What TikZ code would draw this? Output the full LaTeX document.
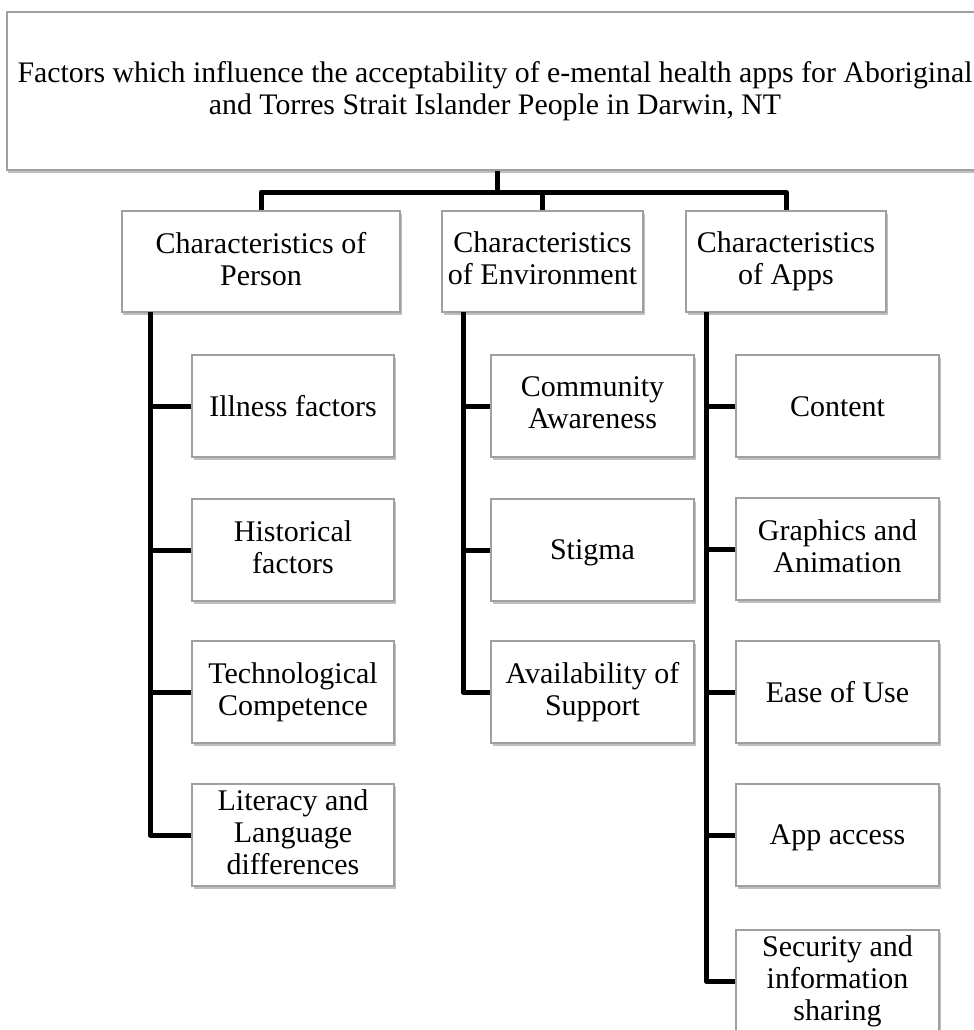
\documentclass[tikz,border=0pt]{standalone}
\usepackage{fontspec}
\setmainfont{Liberation Serif}
\usetikzlibrary{shadows}
\definecolor{boxgray}{HTML}{A0A0A0}
\newcommand{\mystrut}{\rule[-6bp]{0pt}{32bp}}
\tikzset{
  box/.style={draw=boxgray, line width=1.3bp, fill=white, align=center,
    inner sep=0pt, font=\fontsize{30bp}{32bp}\selectfont,
    execute at begin node=\mystrut, execute at end node=\mystrut,
    drop shadow={shadow xshift=1.5bp, shadow yshift=-3bp, opacity=0.45, fill=black!55}},
  conn/.style={draw=black, line width=5bp, line join=round},
}
\begin{document}
\begin{tikzpicture}[x=1bp,y=-1bp]
\clip (0,0) rectangle (974,1030);
\fill[white] (0,0) rectangle (974,1030);

% top box
\node[box, minimum width=976bp, minimum height=158bp, font=\fontsize{29.8bp}{32bp}\selectfont] (top) at (495,91)
  {Factors which influence the acceptability of e-mental health apps for Aboriginal\\and Torres Strait Islander People in Darwin, NT};

% level 1
\node[box, minimum width=278bp, minimum height=101bp] (person) at (261,261.5) {Characteristics of\\Person};
\node[box, minimum width=201bp, minimum height=101bp] (env) at (542.5,261.5) {Characteristics\\of Environment};
\node[box, minimum width=200bp, minimum height=101bp] (apps) at (786,261.5) {Characteristics\\of Apps};

% person children
\node[box, minimum width=202bp, minimum height=102bp] (ill) at (293,406) {Illness factors};
\node[box, minimum width=202bp, minimum height=102bp] (hist) at (293,550) {Historical\\factors};
\node[box, minimum width=202bp, minimum height=102bp] (tech) at (293,692) {Technological\\Competence};
\node[box, minimum width=202bp, minimum height=102bp] (lit) at (293,835) {Literacy and\\Language\\differences};

% environment children
\node[box, minimum width=203bp, minimum height=102bp] (comm) at (592.5,406) {Community\\Awareness};
\node[box, minimum width=203bp, minimum height=102bp] (stig) at (592.5,550) {Stigma};
\node[box, minimum width=203bp, minimum height=102bp] (avail) at (592.5,692) {Availability of\\Support};

% apps children
\node[box, minimum width=203bp, minimum height=102bp] (cont) at (837.5,406) {Content};
\node[box, minimum width=203bp, minimum height=102bp] (graph) at (837.5,549) {Graphics and\\Animation};
\node[box, minimum width=203bp, minimum height=102bp] (ease) at (837.5,692) {Ease of Use};
\node[box, minimum width=203bp, minimum height=102bp] (acc) at (837.5,835) {App access};
\node[box, minimum width=203bp, minimum height=102bp] (sec) at (837.5,981) {Security and\\information\\sharing};

% top connectors
\coordinate (hub) at (497,192);
\draw[conn] (top.south -| hub) -- (hub);
\draw[conn] (person.north) -- (person.north |- hub) -- (apps.north |- hub) -- (apps.north);
\draw[conn] (env.north) -- (env.north |- hub);

% spines
\coordinate (ps) at (150,312);
\coordinate (es) at (463,312);
\coordinate (as) at (706,312);
\draw[conn] (ps) |- (lit.west);
\foreach \n in {ill,hist,tech} \draw[conn] (\n.west) -- (\n.west -| ps);
\draw[conn] (es) |- (avail.west);
\foreach \n in {comm,stig} \draw[conn] (\n.west) -- (\n.west -| es);
\draw[conn] (as) |- (sec.west);
\foreach \n in {cont,graph,ease,acc} \draw[conn] (\n.west) -- (\n.west -| as);
\end{tikzpicture}
\end{document}
